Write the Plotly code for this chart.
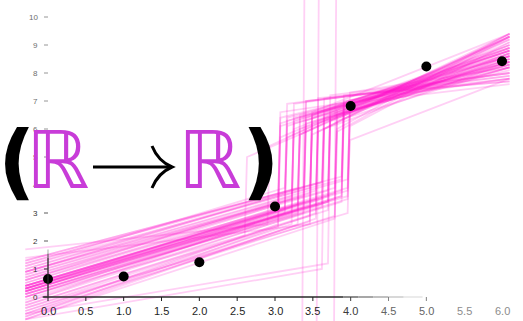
import plotly.graph_objects as go

# ---------------- data ----------------
obs_x = [0, 1, 2, 3, 4, 5, 6]
obs_y = [0.64, 0.73, 1.24, 3.23, 6.82, 8.23, 8.42]

# posterior sample curves: changepoint, left line (value at x=-0.3 and at cp), right line (value at cp and at x=6.1)
cp = [3.04, 3.13, 3.22, 3.30, 3.38, 3.46, 3.54, 3.62, 3.70, 3.79, 3.88, 3.96,
      3.04, 3.13, 3.22, 3.30, 3.38, 3.46, 3.54, 3.62, 3.70, 3.79, 3.88, 3.96,
      3.04, 3.13, 3.22, 3.30, 3.38, 3.46, 3.54, 3.62, 3.70, 3.79, 3.88, 3.96,
      3.04, 3.13, 3.22, 3.30, 3.38, 3.46, 3.54, 3.62, 3.70, 3.79, 3.88, 3.96,
      3.04, 3.13, 3.22, 3.30, 3.38, 3.46, 3.54, 3.62, 3.70, 3.79, 3.88, 3.96,
      3.36, 3.55, 3.78, 3.70, 2.90, 2.60, 3.96, 3.88, 3.62, 3.46]
left_start = [0.3, -0.2, 0.6, 0.1, 0.9, -0.4, 0.4, 0.0, 0.7, 0.2, -0.1, 0.5,
              -0.6, 0.9, -0.5, 1.2, 0.2, 1.0, -0.7, 1.3, 0.3, -0.8, 1.1, 0.1,
              0.5, 0.2, 0.0, 0.4, -0.2, 0.3, 0.8, 0.1, -0.3, 0.6, 0.3, 0.9,
              -0.7, 1.1, 0.3, -0.8, 1.0, -0.5, 0.2, 1.2, 0.4, -0.6, 1.3, -0.4,
              0.6, 0.3, 0.9, 0.0, 0.4, 0.7, -0.3, 0.3, 0.1, 0.8, 0.2, 0.4,
              -1.2, -1.2, -1.2, -0.6, 1.7, 0.0, 0.4, 0.2, -0.8, 1.4]
left_end = [3.2, 3.0, 3.5, 3.1, 3.6, 2.9, 3.5, 3.3, 3.8, 3.5, 3.4, 3.9,
            2.6, 3.7, 2.6, 3.9, 3.2, 3.9, 2.8, 4.1, 3.4, 2.8, 4.2, 3.5,
            3.3, 3.1, 3.0, 3.3, 3.0, 3.3, 3.8, 3.2, 3.1, 3.7, 3.6, 4.2,
            2.5, 3.9, 3.2, 2.6, 3.9, 2.7, 3.3, 4.1, 3.6, 2.9, 4.3, 3.0,
            3.4, 3.2, 3.6, 3.0, 3.4, 3.7, 3.0, 3.5, 3.4, 3.9, 3.6, 3.8,
            -1.2, -1.2, -1.2, 1.2, 2.6, 2.2, 3.6, 3.8, 1.0, 2.6]
right_start = [6.1, 6.3, 6.0, 6.4, 6.2, 6.5, 6.3, 6.6, 6.4, 6.7, 6.5, 6.8,
               6.6, 5.7, 6.9, 5.8, 7.0, 5.8, 7.1, 6.0, 7.2, 6.0, 7.0, 7.3,
               6.2, 6.4, 6.2, 6.0, 6.3, 6.4, 6.2, 6.5, 6.6, 6.3, 6.8, 6.6,
               5.7, 6.9, 6.4, 5.8, 7.0, 6.5, 5.9, 7.1, 6.5, 5.9, 7.2, 6.1,
               6.4, 6.1, 6.3, 6.5, 6.4, 6.2, 6.6, 6.4, 6.3, 6.5, 6.7, 6.5,
               11.5, 11.5, 11.5, 6.3, 5.4, 5.0, 5.6, 6.9, 6.0, 6.6]
right_end = [8.7, 8.4, 9.0, 8.6, 8.2, 8.9, 8.5, 8.8, 8.3, 8.6, 9.1, 8.4,
             7.8, 9.3, 8.0, 9.4, 7.9, 9.2, 7.7, 9.3, 8.0, 9.4, 7.8, 8.2,
             8.8, 8.6, 8.2, 8.5, 8.9, 8.3, 8.6, 8.4, 8.8, 8.2, 8.5, 8.9,
             9.2, 7.9, 8.3, 9.3, 7.8, 9.0, 9.4, 8.0, 8.1, 9.3, 7.7, 9.1,
             8.4, 8.7, 8.6, 8.3, 8.8, 8.5, 8.9, 8.2, 8.7, 8.4, 8.8, 8.6,
             11.5, 11.5, 11.5, 8.7, 9.3, 9.0, 7.8, 7.6, 8.4, 9.4]

x_ticks = [0.0, 0.5, 1.0, 1.5, 2.0, 2.5, 3.0, 3.5, 4.0, 4.5, 5.0, 5.5, 6.0]
x_tick_text = ["0.0", "0.5", "1.0", "1.5", "2.0", "2.5", "3.0", "3.5", "4.0", "4.5", "5.0", "5.5", "6.0"]
y_ticks = [0, 1, 2, 3, 4, 5, 6, 7, 8, 9, 10]
y_tick_text = ["0", "1", "2", "3", "4", "5", "6", "7", "8", "9", "10"]

# ---------------- geometry ----------------
W, H = 523, 321
X0PX, XSCALE = 48.0, 75.67
Y0PX, YSCALE = 297.0, 28.0
xr = [-X0PX / XSCALE, (W - X0PX) / XSCALE]
yr = [(Y0PX - H) / YSCALE, Y0PX / YSCALE]
X_LEFT, X_RIGHT, JUMP = -0.3, 6.1, 0.03

fig = go.Figure()
LINE_COL = "rgba(255, 20, 205, 0.2)"
for c, a, b, d, e in zip(cp, left_start, left_end, right_start, right_end):
    fig.add_trace(go.Scatter(x=[X_LEFT, c, c + JUMP, X_RIGHT], y=[a, b, d, e], mode="lines",
                             line=dict(color=LINE_COL, width=1.8), hoverinfo="skip", showlegend=False))

fig.add_trace(go.Scatter(x=obs_x, y=obs_y, mode="markers",
                         marker=dict(color="black", size=10), showlegend=False))

def grey(v):
    g = int(v)
    return f"rgb({g},{g},{g})"

shapes = []
fade_steps = [(-0.07, 3.9, 40), (3.9, 4.1, 80), (4.1, 4.3, 120), (4.3, 4.5, 160), (4.5, 4.7, 195), (4.7, 4.95, 225)]
for a, b, g in fade_steps:
    shapes.append(dict(type="line", xref="x", yref="y", x0=a, x1=b, y0=0, y1=0,
                       line=dict(color=grey(g), width=1.3)))
for a, b, g in [(0, 1.4, 40), (1.4, 1.55, 110), (1.55, 1.7, 190)]:
    shapes.append(dict(type="line", xref="x", yref="y", x0=0, x1=0, y0=a, y1=b,
                       line=dict(color=grey(g), width=1.3)))

def x_shade(v):
    if v <= 3.5:
        return 30
    if v <= 4.0:
        return 60
    if v <= 5.0:
        return 100
    return 140

annotations = []
for v, t in zip(x_ticks, x_tick_text):
    g = x_shade(v)
    if v <= 5.0:
        shapes.append(dict(type="line", xref="x", yref="y", x0=v, x1=v, y0=0, y1=-4 / YSCALE,
                           line=dict(color=grey(g + 30 if v > 4 else g), width=1)))
    annotations.append(dict(x=v, y=-14 / YSCALE, xref="x", yref="y", text=t, showarrow=False,
                            xanchor="center", yanchor="middle",
                            font=dict(family="Liberation Sans", size=11, color=grey(g))))
for v, t in zip(y_ticks, y_tick_text):
    g = 50 if v <= 3 else 110
    shapes.append(dict(type="line", xref="x", yref="y", x0=-4 / XSCALE, x1=0, y0=v, y1=v,
                       line=dict(color=grey(g + 40 if v > 1 else g), width=1)))
    annotations.append(dict(x=-8 / XSCALE, y=v, xref="x", yref="y", text=t, showarrow=False,
                            xanchor="right", yanchor="middle",
                            font=dict(family="Liberation Sans", size=8, color=grey(g))))

# overlay title "(ℝ→ℝ)"
def px(xp, yp):
    return xp / W, 1 - yp / H

PURPLE = "#c83cd8"
title_parts = [("<b>(</b>", 16, 161, 82, "black"),
               ("ℝ", 57, 161, 80, PURPLE),
               ("ℝ", 209, 161, 80, PURPLE),
               ("<b>)</b>", 260, 161, 82, "black")]
for txt, cx, cy, size, col in title_parts:
    ax, ay = px(cx, cy)
    annotations.append(dict(x=ax, y=ay, xref="paper", yref="paper", text=txt, showarrow=False,
                            xanchor="center", yanchor="middle",
                            font=dict(family="DejaVu Sans", size=size, color=col)))

x1, y1 = px(93, 167)
x2, y2 = px(171, 167)
shapes.append(dict(type="line", xref="paper", yref="paper", x0=x1, y0=y1, x1=x2, y1=y2,
                   line=dict(color="black", width=3)))
def P(xp, yp):
    a, b = px(xp, yp)
    return f"{a:.5f},{b:.5f}"
path = (f"M {P(152,146)} Q {P(158,161)} {P(172,167)} Q {P(158,173)} {P(152,188)}")
shapes.append(dict(type="path", xref="paper", yref="paper", path=path,
                   line=dict(color="black", width=3)))

fig.update_layout(
    width=W, height=H, margin=dict(l=0, r=0, t=0, b=0),
    paper_bgcolor="white", plot_bgcolor="white",
    xaxis=dict(range=xr, visible=False, fixedrange=True),
    yaxis=dict(range=yr, visible=False, fixedrange=True),
    shapes=shapes, annotations=annotations, showlegend=False,
)
fig.write_html("out.html")
